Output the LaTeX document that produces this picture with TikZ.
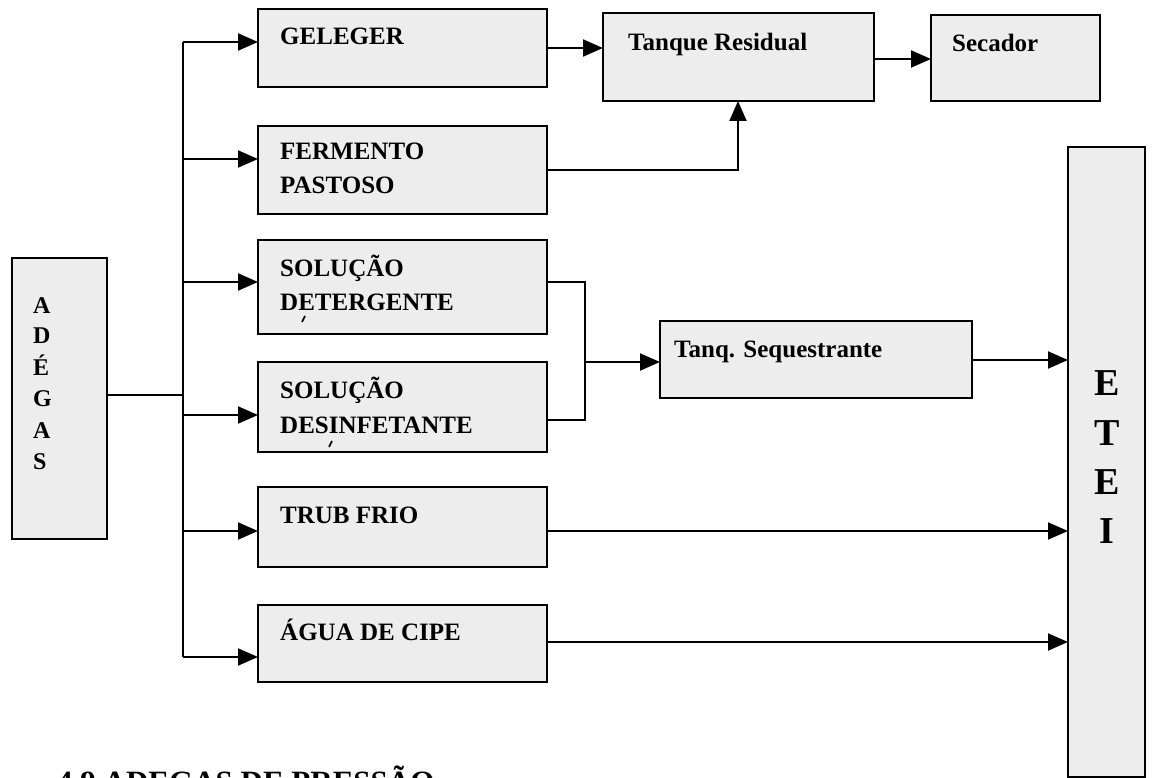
\documentclass[tikz,border=0pt]{standalone}
\usepackage{fontspec}
\setmainfont{Liberation Serif}
\usetikzlibrary{arrows.meta,calc}
\begin{document}
\begin{tikzpicture}[x=1pt,y=-1pt,
  box/.style={draw=black, line width=2.6pt, fill=black!7, anchor=north west,
              inner sep=0pt, outer sep=0pt},
  lbl/.style={anchor=base west, inner sep=0pt, font=\fontsize{25}{30}\selectfont\bfseries},
  bigl/.style={anchor=base, inner sep=0pt, font=\fontsize{38}{40}\selectfont\bfseries},
  sidel/.style={anchor=base west, inner sep=0pt, font=\fontsize{24}{26}\selectfont\bfseries},
  flow/.style={line width=2pt, -{Triangle[length=20pt,width=17pt]}},
  link/.style={line width=2pt},
]
\useasboundingbox (0,0) rectangle (1163,778);
\clip (0,0) rectangle (1163,778);

% source box
\node[box, minimum width=95, minimum height=281] (adegas) at (12,258) {};
\node[sidel] (ad1) at (33,313) {A};
\node[sidel] (ad2) at (33,344) {D};
\node[sidel] (ad3) at (33,375) {É};
\node[sidel] (ad4) at (33,406) {G};
\node[sidel] (ad5) at (33,438) {A};
\node[sidel] (ad6) at (33,469) {S};

% branch boxes
\node[box, minimum width=289, minimum height=78] (gel) at (258,9) {};
\node[lbl] (gelT) at ($(gel.north west)+(22,36)$) {GELEGER};

\node[box, minimum width=289, minimum height=88] (fer) at (258,126) {};
\node[lbl] (ferT1) at ($(fer.north west)+(22,34)$) {FERMENTO};
\node[lbl] (ferT2) at ($(fer.north west)+(22,68)$) {PASTOSO};

\node[box, minimum width=289, minimum height=94] (det) at (258,240) {};
\node[lbl] (detT1) at ($(det.north west)+(22,37)$) {SOLUÇÃO};
\node[lbl] (detT2) at ($(det.north west)+(22,71)$) {DETERGENTE};

\node[box, minimum width=289, minimum height=90] (des) at (258,362) {};
\node[lbl] (desT1) at ($(des.north west)+(22,37)$) {SOLUÇÃO};
\node[lbl] (desT2) at ($(des.north west)+(22,71)$) {DESINFETANTE};

\node[box, minimum width=289, minimum height=80] (trub) at (258,487) {};
\node[lbl] (trubT) at ($(trub.north west)+(22,36)$) {TRUB FRIO};

\node[box, minimum width=289, minimum height=77] (agua) at (258,605) {};
\node[lbl] (aguaT) at ($(agua.north west)+(22,35)$) {ÁGUA DE CIPE};

% small specks inside the cleaning boxes
\draw[line width=1.6pt] (302,322) -- (305,316);
\draw[line width=1.6pt] (329,447) -- (332,441);

% downstream boxes
\node[box, minimum width=271, minimum height=88] (tanq) at (603,13) {};
\node[lbl] (tanqT) at ($(tanq.north west)+(25,38)$) {Tanque Residual};

\node[box, minimum width=169, minimum height=86] (sec) at (931,15) {};
\node[lbl] (secT) at ($(sec.north west)+(21,37)$) {Secador};

\node[box, minimum width=312, minimum height=77] (seq) at (660,321) {};
\node[lbl] (seqT) at ($(seq.north west)+(14,36)$) {Tanq. Sequestrante};

\node[box, minimum width=77, minimum height=630] (etei) at (1068,147) {};
\node[bigl] (et1) at (1107,395) {E};
\node[bigl] (et2) at (1107,445) {T};
\node[bigl] (et3) at (1107,494) {E};
\node[bigl] (et4) at (1107,543) {I};

% distribution trunk
\coordinate (jA) at (183,395);
\coordinate (t1) at (183,42);
\coordinate (t2) at (183,159);
\coordinate (t3) at (183,282);
\coordinate (t4) at (183,415);
\coordinate (t5) at (183,531);
\coordinate (t6) at (183,657);
\draw[link] (adegas.east |- jA) -- (jA);
\draw[link] (t1) -- (t6);
\draw[flow] (t1) -- (t1 -| gel.west);
\draw[flow] (t2) -- (t2 -| fer.west);
\draw[flow] (t3) -- (t3 -| det.west);
\draw[flow] (t4) -- (t4 -| des.west);
\draw[flow] (t5) -- (t5 -| trub.west);
\draw[flow] (t6) -- (t6 -| agua.west);

% residual line
\coordinate (g1) at (547,48);
\draw[flow] (gel.east |- g1) -- (tanq.west |- g1);
\coordinate (s1) at (874,59);
\draw[flow] (tanq.east |- s1) -- (sec.west |- s1);
\coordinate (f1) at (738,170);
\draw[flow] (fer.east |- f1) -- (f1) -- (f1 |- tanq.south);

% cleaning solutions merge
\coordinate (m1) at (585,282);
\coordinate (m2) at (585,420);
\coordinate (m3) at (585,362);
\draw[link] (det.east |- m1) -- (m1) -- (m2) -- (des.east |- m2);
\draw[flow] (m3) -- (m3 -| seq.west);

% effluent lines
\coordinate (e1) at (972,360);
\coordinate (e2) at (547,531);
\coordinate (e3) at (547,642);
\draw[flow] (seq.east |- e1) -- (etei.west |- e1);
\draw[flow] (trub.east |- e2) -- (etei.west |- e2);
\draw[flow] (agua.east |- e3) -- (etei.west |- e3);

% section heading
\node[anchor=base west, inner sep=0pt, font=\fontsize{31}{34}\selectfont\bfseries] (head) at (57,792) {4.9 ADEGAS DE PRESSÃO};
\end{tikzpicture}
\end{document}
